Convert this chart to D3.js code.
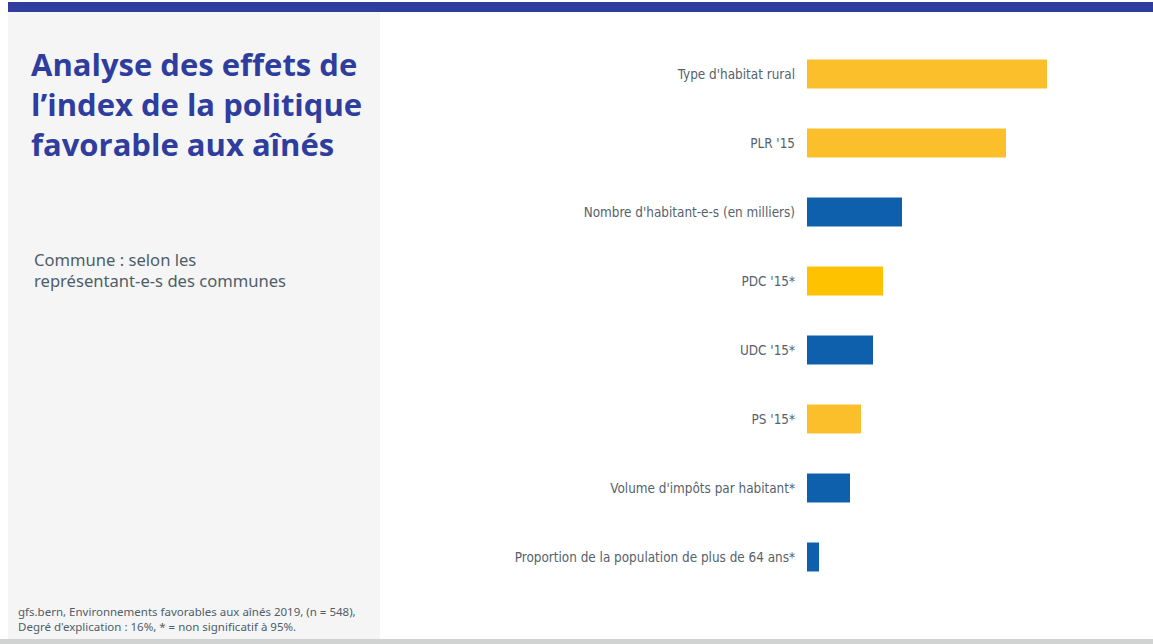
<!DOCTYPE html>
<meta charset="utf-8">
<style>
body { margin: 0; background: #fff; }
svg { display: block; }
.label { font-family: "Liberation Sans Narrow", "DejaVu Sans Condensed", sans-serif; font-size: 13.4px; fill: #56626c; }
</style>
<svg width="1153" height="644"></svg>
<script src="https://cdn.jsdelivr.net/npm/d3@7"></script>
<script>

// data
var categories = [
  "Type d'habitat rural",
  "PLR '15",
  "Nombre d'habitant-e-s (en milliers)",
  "PDC '15*",
  "UDC '15*",
  "PS '15*",
  "Volume d'impôts par habitant*",
  "Proportion de la population de plus de 64 ans*"
];
var effects = [0.240, 0.199, 0.095, 0.076, 0.066, 0.054, 0.043, 0.012];
var colors = ["#fbbf2b", "#fbbf2b", "#0e60ad", "#ffc200", "#0e60ad", "#fbbf2b", "#0e60ad", "#0e60ad"];

var titleLines = ["Analyse des effets de", "l\u2019index de la politique", "favorable aux aînés"];
var subtitleLines = ["Commune : selon les", "représentant-e-s des communes"];
var noteLines = ["gfs.bern, Environnements favorables aux aînés 2019, (n = 548),",
                 "Degré d'explication : 16%, * = non significatif à 95%."];

var svg = d3.select("svg");

// background pieces
svg.append("rect").attr("x", 8).attr("y", 12).attr("width", 372).attr("height", 627).attr("fill", "#f5f5f5");
svg.append("rect").attr("x", 8).attr("y", 2).attr("width", 1145).attr("height", 10).attr("fill", "#2f3e9e");
svg.append("rect").attr("x", 0).attr("y", 639).attr("width", 1153).attr("height", 5).attr("fill", "#d1d3d2");

// title
svg.append("text")
    .attr("font-family", "'Open Sans', sans-serif")
    .attr("font-weight", "bold")
    .attr("font-size", "31px")
    .attr("fill", "#2f3e9e")
  .selectAll("tspan")
  .data(titleLines)
  .enter().append("tspan")
    .attr("x", 31)
    .attr("y", function(d, i) { return 76 + i * 40; })
    .text(function(d) { return d; });

svg.append("text")
    .attr("font-family", "'Noto Sans', sans-serif")
    .attr("font-size", "16.6px")
    .attr("fill", "#4f5d68")
  .selectAll("tspan")
  .data(subtitleLines)
  .enter().append("tspan")
    .attr("x", 34)
    .attr("y", function(d, i) { return 266 + i * 21; })
    .text(function(d) { return d; });

svg.append("text")
    .attr("font-family", "'Noto Sans', sans-serif")
    .attr("font-size", "11.5px")
    .attr("fill", "#4f5d68")
  .selectAll("tspan")
  .data(noteLines)
  .enter().append("tspan")
    .attr("x", 18)
    .attr("y", function(d, i) { return 616 + i * 15; })
    .text(function(d) { return d; });

// bars
var x = d3.scaleLinear().domain([0, 0.24]).range([807, 1047]);
var y = d3.scaleBand().domain(categories).range([39.5, 591.5]).paddingInner(0.58).paddingOuter(0.29);

var g = svg.append("g");

g.selectAll(".bar")
  .data(categories)
  .enter().append("rect")
    .attr("class", "bar")
    .attr("x", x(0))
    .attr("y", function(d) { return y(d); })
    .attr("width", function(d, i) { return x(effects[i]) - x(0); })
    .attr("height", y.bandwidth())
    .attr("fill", function(d, i) { return colors[i]; });

g.selectAll(".label")
  .data(categories)
  .enter().append("text")
    .attr("class", "label")
    .attr("x", 795)
    .attr("y", function(d) { return y(d) + y.bandwidth() / 2; })
    .attr("dy", "0.35em")
    .attr("text-anchor", "end")
    .text(function(d) { return d; });

</script>
